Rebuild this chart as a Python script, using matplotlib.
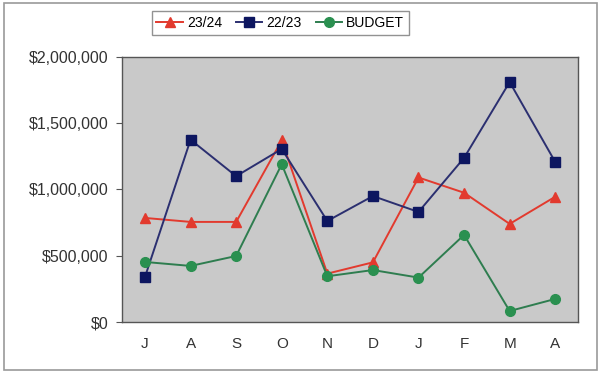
import matplotlib.pyplot as plt
from matplotlib.patches import Rectangle
from matplotlib.ticker import FuncFormatter

months = ["J", "A", "S", "O", "N", "D", "J", "F", "M", "A"]
fy2324 = [785000, 755000, 755000, 1370000, 365000, 450000, 1090000, 975000, 740000, 945000]
fy2223 = [340000, 1375000, 1100000, 1305000, 762000, 950000, 830000, 1238000, 1810000, 1207000]
budget = [453000, 423000, 498000, 1190000, 345000, 392000, 335000, 657000, 83000, 174000]

plt.rcParams['font.family'] = ['Liberation Sans', 'DejaVu Sans']

fig = plt.figure(figsize=(5.99, 3.74), dpi=100)
fig.patches.append(Rectangle((0.006, 0.01), 0.99, 0.982, transform=fig.transFigure,
                             fill=False, edgecolor="#9a9a9a", linewidth=1.2))
ax = fig.add_axes([0.204, 0.139, 0.761, 0.709])
ax.set_facecolor("#c9c9c9")

x = range(len(months))
ax.plot(x, fy2324, color="#e23a2e", marker="^", markersize=7, linewidth=1.4, label="23/24")
ax.plot(x, fy2223, color="#2b2f70", marker="s", markersize=7, markerfacecolor="#0d1660",
        markeredgecolor="#0d1660", linewidth=1.4, label="22/23")
ax.plot(x, budget, color="#2e7d4f", marker="o", markersize=7, markerfacecolor="#2a9050",
        markeredgecolor="#2a9050", linewidth=1.4, label="BUDGET")

ax.set_xlim(-0.5, len(months) - 0.5)
ax.set_ylim(0, 2000000)
ax.set_yticks([0, 500000, 1000000, 1500000, 2000000])
ax.yaxis.set_major_formatter(FuncFormatter(lambda v, p: "${:,.0f}".format(v)))
ax.set_xticks(list(x))
ax.set_xticklabels(months)
ax.tick_params(axis="x", length=0, pad=11, labelsize=11, labelcolor="#333333")
ax.tick_params(axis="y", length=4, pad=6, labelsize=11.5, labelcolor="#333333", color="#555555")
for s in ax.spines.values():
    s.set_color("#555555")
    s.set_linewidth(1.0)

fig.legend(loc="upper center", bbox_to_anchor=(0.468, 0.97), ncol=3, fontsize=10,
           frameon=True, fancybox=False, edgecolor="#777777", handlelength=1.9,
           columnspacing=1.0, handletextpad=0.3, borderpad=0.35, borderaxespad=0.0)

fig.savefig("out.png", dpi=100)
